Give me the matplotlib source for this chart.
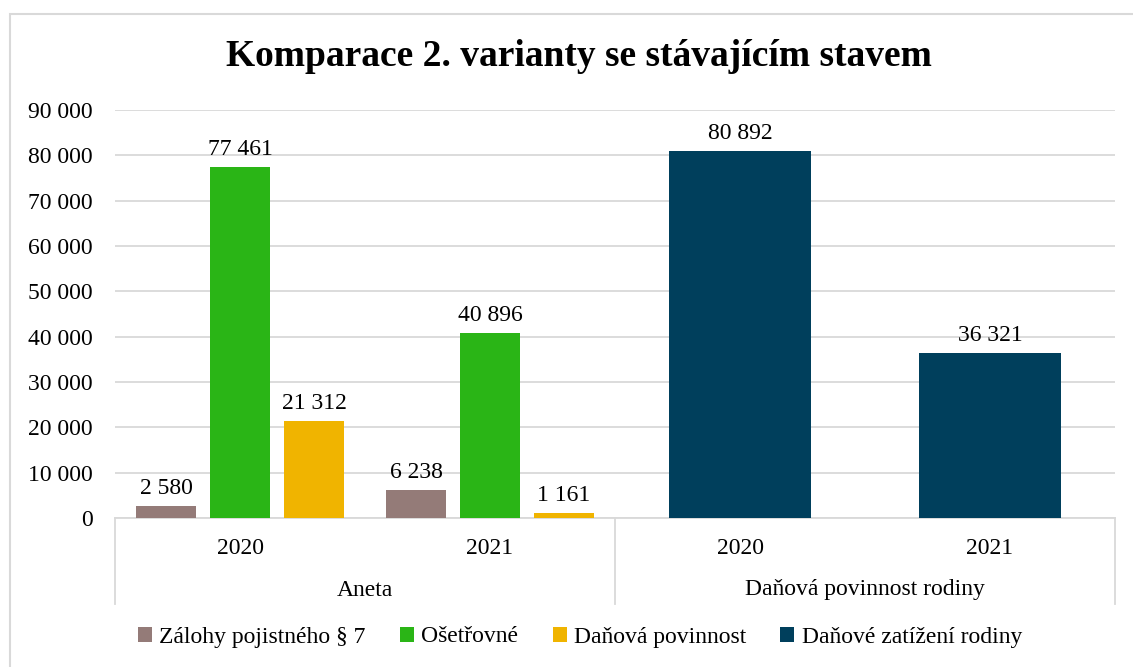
import matplotlib
matplotlib.use("Agg")
import matplotlib.pyplot as plt
from matplotlib.patches import Rectangle
import numpy as np

plt.rcParams["font.family"] = ["Liberation Serif", "DejaVu Serif"]

# data
roky = ["2020", "2021", "2020", "2021"]
skupiny = ["Aneta", "Daňová povinnost rodiny"]
zalohy = [2580, 6238]
osetrovne = [77461, 40896]
dan_povinnost = [21312, 1161]
zatizeni_rodiny = [80892, 36321]
yticks = list(range(0, 90001, 10000))

barvy = ["#947B78", "#2AB516", "#F0B400", "#003F5C"]
nazvy = ["Zálohy pojistného § 7", "Ošetřovné", "Daňová povinnost", "Daňové zatížení rodiny"]


def fmt(v):
    return "{:,}".format(v).replace(",", " ")


fig = plt.figure(figsize=(11.33, 6.67), dpi=100)
ax = fig.add_axes([115 / 1133, 1 - 518 / 667, 1000 / 1133, 408 / 667])

x_aneta = np.arange(2)
x_rodina = np.arange(2) + 2
sirka = 0.237
posun = 0.296

bary = []
for i, hodnoty in enumerate([zalohy, osetrovne, dan_povinnost]):
    b = ax.bar(x_aneta + (i - 1) * posun, hodnoty, sirka, color=barvy[i], label=nazvy[i], zorder=3)
    bary.append(b)
b = ax.bar(x_rodina, zatizeni_rodiny, 0.57, color=barvy[3], label=nazvy[3], zorder=3)
bary.append(b)

for b in bary:
    for r in b:
        h = r.get_height()
        ax.annotate(fmt(int(h)), (r.get_x() + r.get_width() / 2, h), xytext=(0, 5),
                    textcoords="offset points", ha="center", va="bottom", fontsize=17)

ax.set_xlim(-0.5, 3.5)
ax.set_ylim(0, 90000)
ax.set_yticks(yticks)
ax.set_yticklabels([fmt(v) for v in yticks], fontsize=17)
ax.yaxis.grid(True, color="#D9D9D9", linewidth=1.3, zorder=0)
ax.tick_params(axis="y", length=0, pad=16)
ax.set_xticks([])
for s in ["top", "right", "left"]:
    ax.spines[s].set_visible(False)
ax.spines["bottom"].set_color("#D9D9D9")
ax.spines["bottom"].set_linewidth(1.3)

# vicerovnova osa kategorii
dole = -86 / 408
for xv in [-0.5, 1.5, 3.5]:
    ax.plot([xv, xv], [0, dole], transform=ax.get_xaxis_transform(), color="#D9D9D9",
            linewidth=1.3, clip_on=False)
for i, r in enumerate(roky):
    ax.text(i, -31 / 408, r, transform=ax.get_xaxis_transform(), ha="center", va="center", fontsize=17)
for i, s in enumerate(skupiny):
    ax.text(0.5 + 2 * i, -72 / 408, s, transform=ax.get_xaxis_transform(), ha="center", va="center",
            fontsize=17)

fig.text(0.511, 1 - 57 / 667, "Komparace 2. varianty se stávajícím stavem", ha="center", va="center",
         fontsize=27, fontweight="bold")

fig.legend(handles=bary, labels=nazvy, loc="center", bbox_to_anchor=(0.512, 1 - 637 / 667), ncol=4,
           frameon=False, fontsize=17, handlelength=0.6, handleheight=0.6, handletextpad=0.3,
           columnspacing=1.45)

fig.patches.append(Rectangle((10 / 1133, -0.5), 2, 1.5 - 14 / 667, transform=fig.transFigure,
                             fill=False, edgecolor="#D9D9D9", linewidth=1.5))

fig.savefig("out.png", dpi=100)
